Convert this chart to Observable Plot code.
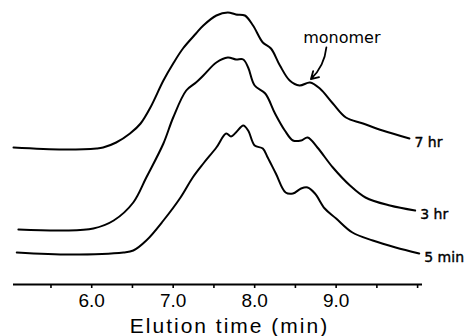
<!DOCTYPE html>
<html><head><meta charset="utf-8">
<script src="https://cdn.jsdelivr.net/npm/d3@7"></script>
<script src="https://cdn.jsdelivr.net/npm/@observablehq/plot@0.6"></script>
<style>body{margin:0;background:#fff}</style>
</head><body><div id="chart"></div>
<script>
// Elution profiles (height above each trace's own baseline, arbitrary units)
const seriesNames = ["5 min", "3 hr", "7 hr"];
const baselineOffsets = [9.3, 16.35, 40.8];

const time5min = [5.08, 5.74, 6.39, 6.51, 6.67, 6.88, 7.09, 7.24, 7.37, 7.53, 7.65, 7.71, 7.77, 7.86, 7.92, 8.00, 8.10, 8.16, 8.26, 8.38, 8.47, 8.57, 8.65, 8.74, 8.86, 9.00, 9.20, 9.45, 9.73, 10.02];
const signal5min = [0.3, -0.3, 0.3, 0.9, 3.9, 9.9, 16.8, 22.8, 27.0, 31.8, 36.0, 35.1, 36.3, 38.4, 36.9, 32.4, 31.5, 28.8, 24.0, 18.3, 18.0, 19.5, 19.8, 18.0, 13.5, 10.5, 6.3, 3.9, 1.8, 0.0];

const time3hr = [5.10, 5.65, 6.02, 6.27, 6.51, 6.67, 6.88, 7.00, 7.16, 7.28, 7.37, 7.53, 7.67, 7.77, 7.86, 7.92, 8.00, 8.13, 8.25, 8.37, 8.47, 8.57, 8.65, 8.77, 8.96, 9.17, 9.36, 9.66, 9.97];
const signal3hr = [0.15, -0.15, 0.45, 2.85, 8.25, 15.75, 25.95, 33.75, 41.85, 44.25, 46.35, 50.25, 51.75, 51.15, 51.15, 48.75, 43.35, 40.95, 34.95, 29.85, 26.85, 26.85, 27.75, 24.75, 18.75, 13.35, 9.75, 7.35, 5.85];

const time7hr = [5.04, 5.65, 6.06, 6.14, 6.30, 6.47, 6.60, 6.72, 6.88, 7.00, 7.12, 7.28, 7.37, 7.53, 7.67, 7.77, 7.88, 7.98, 8.10, 8.20, 8.31, 8.43, 8.55, 8.68, 8.80, 8.96, 9.12, 9.33, 9.57, 9.90];
const signal7hr = [0.3, -0.3, 0.0, 0.3, 1.8, 4.5, 7.5, 12.3, 20.4, 25.5, 30.0, 34.5, 36.9, 39.9, 40.8, 40.2, 39.9, 36.9, 31.8, 30.0, 24.9, 20.4, 18.9, 19.8, 18.0, 13.5, 9.3, 7.5, 5.4, 3.0];

const tickValues = [5.5, 6.0, 6.5, 7.0, 7.5, 8.0, 8.5, 9.0, 9.5, 10.0];
const tickLabelValues = [6.0, 7.0, 8.0, 9.0];
const xTitle = "Elution time (min)";
const annotationText = "monomer";
const annotationPos = [{t: 9.07, v: 74.0}];
const arrowPos = [{t1: 8.88, v1: 71.1, t2: 8.69, v2: 61.6}];

const times = [time5min, time3hr, time7hr];
const signals = [signal5min, signal3hr, signal7hr];
const rows = [];
seriesNames.forEach((name, i) => {
  times[i].forEach((t, j) => rows.push({series: name, t, v: signals[i][j] + baselineOffsets[i]}));
});
const ends = seriesNames.map(name => {
  const r = rows.filter(d => d.series === name);
  return r[r.length - 1];
});

const chart = Plot.plot({
  width: 468,
  height: 336,
  marginLeft: 13,
  marginRight: 46,
  marginTop: 0,
  marginBottom: 52,
  style: {fontFamily: "Liberation Sans, Arial, sans-serif", background: "#fff", color: "#000"},
  x: {domain: [5.04, 10.06], axis: null, label: null},
  y: {domain: [0, 85.2], axis: null},
  marks: [
    Plot.ruleY([0], {stroke: "#000", strokeWidth: 2}),
    Plot.axisX({ticks: tickValues, tickFormat: () => "", tickSize: 4, strokeWidth: 1.6, label: null}),
    Plot.axisX({ticks: tickLabelValues, tickSize: 0, tickPadding: 9, tickFormat: d => d.toFixed(1), fontSize: 19, label: null}),
    Plot.text([xTitle], {frameAnchor: "bottom", dx: 11.5, dy: 48, lineAnchor: "bottom", textAnchor: "middle", fontSize: 21, fontFamily: "Liberation Sans"}),
    Plot.line(rows, {x: "t", y: "v", z: "series", stroke: "#000", strokeWidth: 2, curve: "catmull-rom"}),
    Plot.text(ends, {x: "t", y: "v", text: "series", textAnchor: "start", dx: 5, dy: 4, fontSize: 14, fontFamily: "DejaVu Sans", stroke: "#000", strokeWidth: 0.4, fill: "#000"}),
    Plot.text(annotationPos, {x: "t", y: "v", text: () => annotationText, fontSize: 16, fontFamily: "DejaVu Sans", fill: "#000"}),
    Plot.arrow(arrowPos, {x1: "t1", y1: "v1", x2: "t2", y2: "v2", bend: 20, stroke: "#000", strokeWidth: 1.8, headLength: 7})
  ]
});
d3.select(chart).selectAll("text").filter(function() { return this.textContent === xTitle; })
  .style("letter-spacing", "2px");
document.getElementById("chart").appendChild(chart);
</script>
</body></html>
